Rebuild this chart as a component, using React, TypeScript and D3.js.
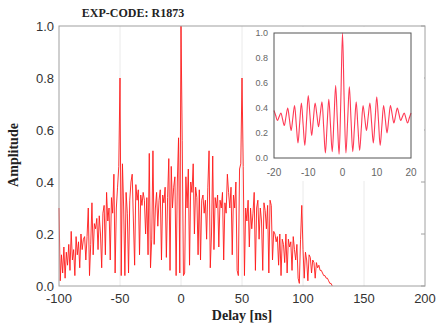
import React, { useEffect, useRef } from "react";
import * as d3 from "d3";

// main delay profile, 1 ns steps starting at -100 ns
const startDelay = -100;
const amplitude = [
  0.30, 0.02, 0.12, 0.05, 0.15, 0.03, 0.13, 0.08, 0.16, 0.06,
  0.21, 0.10, 0.14, 0.04, 0.19, 0.12, 0.17, 0.07, 0.20, 0.14,
  0.18, 0.19, 0.10, 0.19, 0.30, 0.04, 0.16, 0.32, 0.12, 0.24,
  0.22, 0.26, 0.14, 0.27, 0.20, 0.07, 0.28, 0.31, 0.12, 0.36,
  0.25, 0.30, 0.10, 0.34, 0.28, 0.43, 0.05, 0.30, 0.38, 0.46,
  0.80, 0.04, 0.47, 0.30, 0.04, 0.36, 0.28, 0.05, 0.33, 0.40,
  0.43, 0.25, 0.08, 0.39, 0.33, 0.37, 0.12, 0.35, 0.31, 0.36,
  0.33, 0.20, 0.34, 0.12, 0.51, 0.07, 0.18, 0.52, 0.16, 0.30,
  0.36, 0.23, 0.33, 0.37, 0.10, 0.35, 0.32, 0.38, 0.11, 0.34,
  0.49, 0.06, 0.46, 0.30, 0.38, 0.42, 0.04, 0.40, 0.57, 0.05,
  1.00, 0.56, 0.04, 0.05, 0.42, 0.30, 0.45, 0.08, 0.40, 0.36,
  0.47, 0.20, 0.38, 0.34, 0.12, 0.37, 0.10, 0.33, 0.35, 0.28,
  0.33, 0.18, 0.38, 0.52, 0.07, 0.20, 0.50, 0.14, 0.34, 0.30,
  0.35, 0.15, 0.33, 0.30, 0.36, 0.10, 0.32, 0.28, 0.43, 0.36,
  0.30, 0.38, 0.12, 0.35, 0.30, 0.40, 0.06, 0.04, 0.45, 0.47,
  0.80, 0.46, 0.04, 0.30, 0.25, 0.33, 0.15, 0.30, 0.22, 0.28,
  0.36, 0.06, 0.30, 0.33, 0.18, 0.30, 0.25, 0.06, 0.32, 0.29,
  0.22, 0.31, 0.05, 0.33, 0.31, 0.10, 0.21, 0.20, 0.17, 0.19,
  0.08, 0.20, 0.04, 0.18, 0.16, 0.09, 0.20, 0.05, 0.18, 0.15,
  0.17, 0.06, 0.19, 0.14, 0.10, 0.16, 0.03, 0.01, 0.18, 0.31,
  0.14, 0.03, 0.13, 0.10, 0.02, 0.12, 0.11, 0.05, 0.10, 0.09,
  0.03, 0.09, 0.07, 0.08, 0.06, 0.06, 0.05, 0.04, 0.04, 0.03,
  0.03, 0.02, 0.01, 0.01, 0.00,
];

// inset zoom, 0.5 ns steps from -20 to 20
const insetStart = -20;
const insetAmplitude = [
  0.38, 0.34, 0.30, 0.33, 0.36, 0.31, 0.26, 0.33, 0.40, 0.31,
  0.22, 0.32, 0.42, 0.27, 0.12, 0.28, 0.44, 0.27, 0.10, 0.30,
  0.50, 0.34, 0.18, 0.31, 0.44, 0.35, 0.25, 0.35, 0.45, 0.25,
  0.04, 0.26, 0.47, 0.26, 0.05, 0.30, 0.58, 0.30, 0.03, 0.45,
  1.00,
  0.45, 0.04, 0.30, 0.57, 0.30, 0.05, 0.25, 0.45, 0.25, 0.06,
  0.24, 0.42, 0.32, 0.22, 0.33, 0.44, 0.28, 0.12, 0.30, 0.49,
  0.30, 0.10, 0.26, 0.42, 0.31, 0.20, 0.31, 0.42, 0.35, 0.28,
  0.34, 0.40, 0.35, 0.30, 0.33, 0.36, 0.32, 0.28, 0.32, 0.36,
];

const xTicks = [-100, -50, 0, 50, 100, 150, 200];
const yTicks = [0, 0.2, 0.4, 0.6, 0.8, 1.0];
const insetXTicks = [-20, -10, 0, 10, 20];
const insetYTicks = [0, 0.2, 0.4, 0.6, 0.8, 1.0];

export default function App() {
  const svgRef = useRef<SVGSVGElement>(null);
  const width = 441;
  const height = 326;

  useEffect(() => {
    const svg = d3.select(svgRef.current);
    svg.selectAll("*").remove();

    const m = { left: 59, right: 425, top: 26, bottom: 286 };
    const x = d3.scaleLinear().domain([-100, 200]).range([m.left, m.right]);
    const y = d3.scaleLinear().domain([0, 1]).range([m.bottom, m.top]);

    svg.append("rect").attr("width", width).attr("height", height).attr("fill", "white");

    // grid lines
    svg
      .append("g")
      .selectAll("line")
      .data(xTicks.slice(1, -1))
      .join("line")
      .attr("x1", (d) => x(d))
      .attr("x2", (d) => x(d))
      .attr("y1", m.top)
      .attr("y2", m.bottom)
      .attr("stroke", "#e4e4e4")
      .attr("stroke-width", 0.8);

    // main trace
    const pts = amplitude.map((v, i) => [startDelay + i, v] as [number, number]);
    const line = d3
      .line<[number, number]>()
      .x((d) => x(d[0]))
      .y((d) => y(d[1]));
    svg
      .append("path")
      .datum(pts)
      .attr("d", line)
      .attr("fill", "none")
      .attr("stroke", "#ff1a1a")
      .attr("stroke-width", 0.9)
      .attr("stroke-linejoin", "round");

    // frame
    svg
      .append("rect")
      .attr("x", m.left)
      .attr("y", m.top)
      .attr("width", m.right - m.left)
      .attr("height", m.bottom - m.top)
      .attr("fill", "none")
      .attr("stroke", "#a0a0a0")
      .attr("stroke-width", 1);

    // inward ticks on the right
    svg
      .append("g")
      .selectAll("line")
      .data(yTicks)
      .join("line")
      .attr("x1", m.right - 4)
      .attr("x2", m.right)
      .attr("y1", (d) => y(d))
      .attr("y2", (d) => y(d))
      .attr("stroke", "#a0a0a0");

    const tickFont = "'Liberation Sans', Arial, sans-serif";

    svg
      .append("g")
      .selectAll("text")
      .data(yTicks)
      .join("text")
      .attr("x", m.left - 5)
      .attr("y", (d) => y(d))
      .attr("text-anchor", "end")
      .attr("dominant-baseline", "central")
      .style("font-family", tickFont)
      .style("font-size", "13px")
      .style("fill", "#333")
      .text((d) => d.toFixed(1));

    svg
      .append("g")
      .selectAll("text")
      .data(xTicks)
      .join("text")
      .attr("x", (d) => x(d))
      .attr("y", m.bottom + 17)
      .attr("text-anchor", "middle")
      .style("font-family", tickFont)
      .style("font-size", "13px")
      .style("fill", "#333")
      .text((d) => d);

    const serif = "'Liberation Serif', 'Times New Roman', serif";

    svg
      .append("text")
      .attr("x", 133)
      .attr("y", 17)
      .attr("text-anchor", "middle")
      .style("font-family", serif)
      .style("font-weight", "bold")
      .style("font-size", "12px")
      .style("fill", "#222")
      .text("EXP-CODE: R1873");

    svg
      .append("text")
      .attr("x", 242)
      .attr("y", 320)
      .attr("text-anchor", "middle")
      .style("font-family", serif)
      .style("font-weight", "bold")
      .style("font-size", "14px")
      .style("fill", "#222")
      .text("Delay [ns]");

    svg
      .append("text")
      .attr("transform", "translate(18,155) rotate(-90)")
      .attr("text-anchor", "middle")
      .style("font-family", serif)
      .style("font-weight", "bold")
      .style("font-size", "14px")
      .style("fill", "#222")
      .text("Amplitude");

    // inset
    const box = { left: 249, top: 27, right: 424, bottom: 181 };
    svg
      .append("rect")
      .attr("x", box.left)
      .attr("y", box.top)
      .attr("width", box.right - box.left)
      .attr("height", box.bottom - box.top)
      .attr("fill", "white");

    const ix = d3.scaleLinear().domain([-20, 20]).range([274, 411]);
    const iy = d3.scaleLinear().domain([0, 1]).range([158, 33]);

    const ipts = insetAmplitude.map((v, i) => [insetStart + i * 0.5, v] as [number, number]);
    const iline = d3
      .line<[number, number]>()
      .x((d) => ix(d[0]))
      .y((d) => iy(d[1]))
      .curve(d3.curveCatmullRom);
    svg
      .append("path")
      .datum(ipts)
      .attr("d", iline)
      .attr("fill", "none")
      .attr("stroke", "#ff3a55")
      .attr("stroke-width", 1.1);

    svg
      .append("rect")
      .attr("x", 274)
      .attr("y", 33)
      .attr("width", 137)
      .attr("height", 125)
      .attr("fill", "none")
      .attr("stroke", "#555")
      .attr("stroke-width", 1);

    svg
      .append("g")
      .selectAll("text")
      .data(insetYTicks)
      .join("text")
      .attr("x", 268)
      .attr("y", (d) => iy(d))
      .attr("text-anchor", "end")
      .attr("dominant-baseline", "central")
      .style("font-family", tickFont)
      .style("font-size", "9px")
      .style("fill", "#666")
      .text((d) => d.toFixed(1));

    svg
      .append("g")
      .selectAll("text")
      .data(insetXTicks)
      .join("text")
      .attr("x", (d) => ix(d))
      .attr("y", 176)
      .attr("text-anchor", "middle")
      .style("font-family", tickFont)
      .style("font-size", "10px")
      .style("fill", "#666")
      .text((d) => d);
  }, []);

  return (
    <svg
      ref={svgRef}
      width={width}
      height={height}
      style={{ position: "absolute", left: 0, top: 0 }}
    ></svg>
  );
}
